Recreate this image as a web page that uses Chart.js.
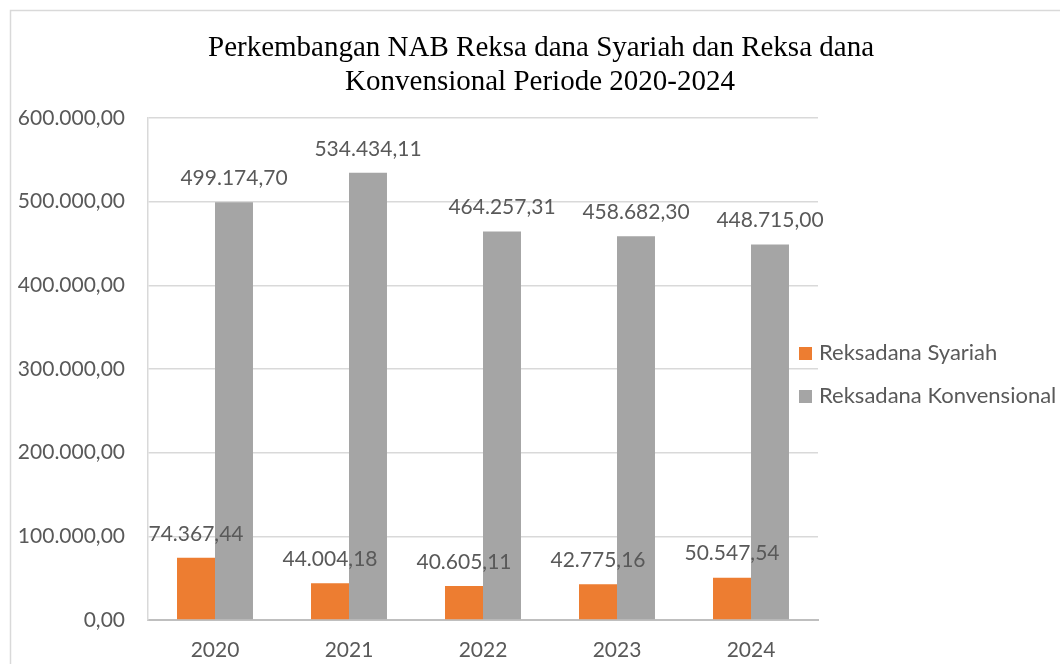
<!DOCTYPE html>
<html>
<head>
<meta charset="utf-8">
<script src="https://cdn.jsdelivr.net/npm/chart.js@4"></script>
<style>
  html, body { margin: 0; padding: 0; background: #fff; overflow: hidden; }
  #wrap { width: 1060px; height: 664px; position: relative; }
</style>
</head>
<body>
<div id="wrap"><canvas id="myChart" width="1060" height="664"></canvas></div>
<script>
"use strict";

const years = ['2020', '2021', '2022', '2023', '2024'];
const syariah = [74367.44, 44004.18, 40605.11, 42775.16, 50547.54];
const konvensional = [499174.70, 534434.11, 464257.31, 458682.30, 448715.00];
const seriesNames = ['Reksadana Syariah', 'Reksadana Konvensional'];
const titleLines = ['Perkembangan NAB Reksa dana Syariah dan Reksa dana', 'Konvensional Periode 2020-2024'];

const textColor = '#595959';
const labelFont = '21px Lato';

// angka gaya Indonesia: 1.234,56
function fmt(v) {
    const parts = v.toFixed(2).split('.');
    return parts[0].replace(/\B(?=(\d{3})+(?!\d))/g, '.') + ',' + parts[1];
}

const extras = {
    id: 'extras',
    beforeDraw(chart) {
        const ctx = chart.ctx;
        ctx.save();
        ctx.strokeStyle = '#d9d9d9';
        ctx.lineWidth = 1.5;
        ctx.strokeRect(10.5, 10.5, 2000, 2000);
        ctx.restore();
    },
    afterDatasetsDraw(chart) {
        const ctx = chart.ctx;
        ctx.save();
        ctx.font = labelFont;
        ctx.fillStyle = textColor;
        ctx.textAlign = 'center';
        ctx.textBaseline = 'middle';
        chart.data.datasets.forEach((ds, i) => {
            chart.getDatasetMeta(i).data.forEach((bar, j) => {
                ctx.fillText(fmt(ds.data[j]), bar.x, bar.y - 24);
            });
        });
        ctx.restore();
    },
    afterDraw(chart) {
        const ctx = chart.ctx;
        ctx.save();
        // judul
        ctx.font = '29px "Liberation Serif"';
        ctx.fillStyle = '#000';
        ctx.textAlign = 'center';
        ctx.textBaseline = 'middle';
        ctx.fillText(titleLines[0], 541, 48);
        ctx.fillText(titleLines[1], 540, 82);
        // legenda
        ctx.font = '22px Lato';
        ctx.textAlign = 'left';
        chart.data.datasets.forEach((ds, i) => {
            const y = 353 + i * 43;
            ctx.fillStyle = ds.backgroundColor;
            ctx.fillRect(799, y - 6, 13, 13);
            ctx.fillStyle = textColor;
            ctx.fillText(ds.label, 819, y);
        });
        ctx.restore();
    }
};

new Chart(document.getElementById('myChart'), {
    type: 'bar',
    data: {
        labels: years,
        datasets: [{
            label: seriesNames[0],
            data: syariah,
            backgroundColor: '#ED7D31'
        }, {
            label: seriesNames[1],
            data: konvensional,
            backgroundColor: '#A5A5A5'
        }]
    },
    options: {
        responsive: false,
        animation: false,
        devicePixelRatio: 1,
        layout: { padding: { top: 118, right: 242, bottom: 0, left: 0 } },
        datasets: {
            bar: { categoryPercentage: 0.567, barPercentage: 1.0 }
        },
        plugins: {
            legend: { display: false },
            title: { display: false },
            tooltip: { enabled: false }
        },
        scales: {
            x: {
                grid: { display: false, drawTicks: false },
                border: { color: '#bfbfbf', width: 2 },
                ticks: { color: textColor, font: { family: 'Lato', size: 21 }, padding: 18 },
                afterFit(s) { s.height = 44; }
            },
            y: {
                min: 0,
                max: 600000,
                grid: { color: '#d9d9d9', lineWidth: 1.5, drawTicks: false },
                border: { color: '#d9d9d9', width: 1.5 },
                ticks: {
                    stepSize: 100000,
                    color: textColor,
                    font: { family: 'Lato', size: 21 },
                    padding: 23,
                    callback: (v) => fmt(v)
                },
                afterFit(s) { s.width = 148; }
            }
        }
    },
    plugins: [extras]
});
</script>
</body>
</html>
